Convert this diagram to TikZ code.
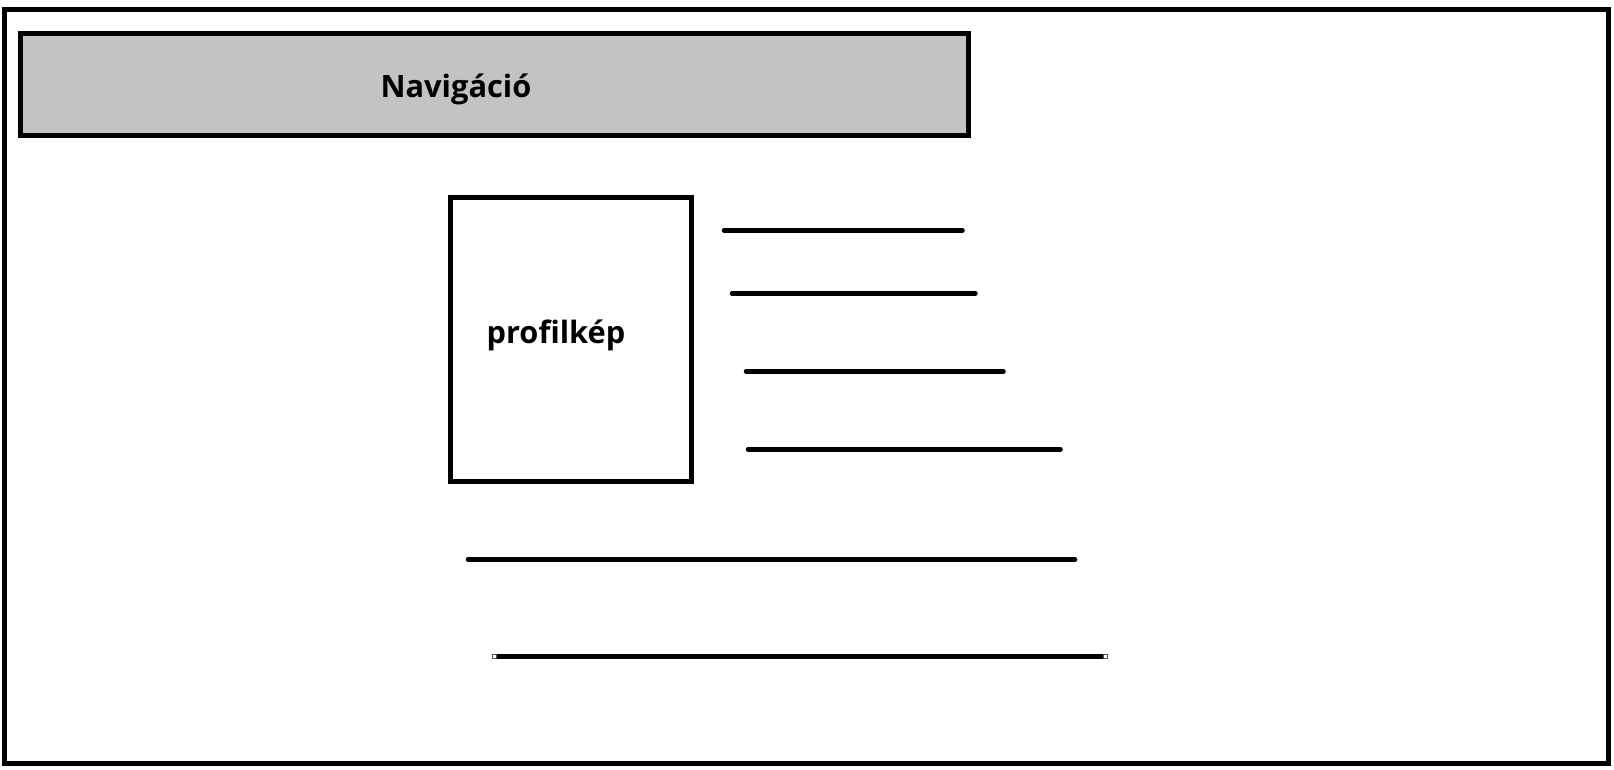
\documentclass[tikz,border=0pt]{standalone}
\usepackage{fontspec}
\setmainfont{Open Sans}
\definecolor{navgray}{HTML}{C3C3C3}
\definecolor{handlegray}{HTML}{505050}
\begin{document}
\begin{tikzpicture}[x=1pt,y=-1pt,
  frame/.style={draw=black,line width=5pt},
  txt/.style={font=\fontsize{30.8}{36}\selectfont\bfseries,inner sep=0pt,anchor=base},
  textline/.style={draw=black,line width=4.5pt,line cap=round},
  handle/.style={draw=handlegray,fill=white,line width=0.8pt,minimum size=4.5pt,inner sep=0pt}]
\useasboundingbox (0,0) rectangle (1614,770);
\fill[white] (0,0) rectangle (1614,770);
\draw[frame] (4.5,9.5) rectangle (1608.5,763.5);
\node[frame,fill=navgray,minimum width=948pt,minimum height=102.5pt,inner sep=0pt] (nav) at (494.5,84.75) {};
\node[txt] (navtxt) at (456,97.5) {Navigáció};
\node[frame,minimum width=241pt,minimum height=284pt,inner sep=0pt] (pic) at (571,339.5) {};
\node[txt] (pictxt) at (556,343) {profilkép};
\coordinate (l1a) at (724,230.3); \coordinate (l1b) at (962.5,230.3);
\coordinate (l2a) at (732,293.3); \coordinate (l2b) at (975.5,293.3);
\coordinate (l3a) at (746,371.3); \coordinate (l3b) at (1003.5,371.3);
\coordinate (l4a) at (748,449.3); \coordinate (l4b) at (1060.5,449.3);
\coordinate (l5a) at (468,559.5); \coordinate (l5b) at (1075,559.5);
\draw[textline] (l1a) -- (l1b);
\draw[textline] (l2a) -- (l2b);
\draw[textline] (l3a) -- (l3b);
\draw[textline] (l4a) -- (l4b);
\draw[textline] (l5a) -- (l5b);
\node[handle] (h1) at (494.5,656.5) {};
\node[handle] (h2) at (1105.5,656.5) {};
\draw[draw=black,line width=5pt] (h1.east) -- (h2.west);
\end{tikzpicture}
\end{document}
